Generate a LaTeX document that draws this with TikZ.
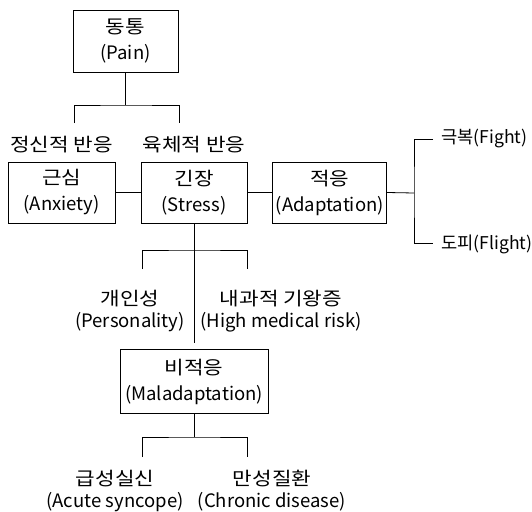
\documentclass[tikz,border=0pt]{standalone}
\usepackage{fontspec}
\setmainfont{Noto Sans CJK KR}
\newfontfamily\kr{Noto Sans CJK KR}[FakeStretch=1.15]
\usetikzlibrary{positioning}

\begin{document}
\begin{tikzpicture}[x=1pt,y=-1pt,line width=0.8pt,
  every node/.style={font=\fontsize{18.5}{22}\selectfont},
  box/.style={draw,align=center,inner sep=0pt,font=\fontsize{18.5}{26}\selectfont},
  txt/.style={align=center,inner sep=0pt},
  side/.style={anchor=west,inner sep=0pt,font=\fontsize{17.6}{20}\selectfont}]
  \useasboundingbox (0,0) rectangle (532,511);

  \node[box,minimum width=105pt,minimum height=62pt] (p1) at (125.5,41) {{\kr 동통}\\(Pain)};
  \node[box,minimum width=106pt,minimum height=61pt] (p3) at (194,192.5) {{\kr 긴장}\\(Stress)};
  \node[box,minimum width=107pt,minimum height=61pt] (p2) [left=25pt of p3] {{\kr 근심}\\(Anxiety)};
  \node[box,minimum width=114pt,minimum height=61pt] (p4) [right=25pt of p3] {{\kr 적응}\\(Adaptation)};
  \node[box,minimum width=148pt,minimum height=64pt] (p5) [below=126pt of p3] {{\kr 비적응}\\(Maladaptation)};

  \node[txt] (l1) [above=8pt of p2] {\kr 정신적 반응};
  \node[txt] (l2) [above=8pt of p3] {\kr 육체적 반응};
  \node[txt] (l3) at (130,311) {{\kr 개인성}\\(Personality)};
  \node[txt] (l4) at (281,311) {{\kr 내과적 기왕증}\\(High medical risk)};
  \node[txt] (l5) at (115,491) {{\kr 급성실신}\\(Acute syncope)};
  \node[txt] (l6) at (272,491) {{\kr 만성질환}\\(Chronic disease)};
  \node[side] (l7) at (441,139) {극복(Fight)};
  \node[side] (l8) at (441,244) {도피(Flight)};

  \coordinate (j1) at (125.5,105);
  \coordinate (a1) at (74,123);
  \coordinate (a2) at (179,123);
  \coordinate (j2) at (414,193);
  \coordinate (a3) at (433,139);
  \coordinate (a4) at (433,243);
  \coordinate (j3) at (194,250);
  \coordinate (e1) at (194,343);
  \coordinate (a5) at (142,269);
  \coordinate (a6) at (247,269);
  \coordinate (j4) at (194,437);
  \coordinate (a7) at (142,457);
  \coordinate (a8) at (247,457);

  \draw (p1.south) -- (j1);
  \draw (a1) |- (j1) -| (a2);
  \draw (p2) -- (p3);
  \draw (p3) -- (p4);
  \draw (p4.east) -- (j2);
  \draw (a3) -| (j2) |- (a4);
  \draw (p3.south) -- (e1);
  \draw (a5) |- (j3) -| (a6);
  \draw (p5.south) -- (j4);
  \draw (a7) |- (j4) -| (a8);

\end{tikzpicture}
\end{document}
